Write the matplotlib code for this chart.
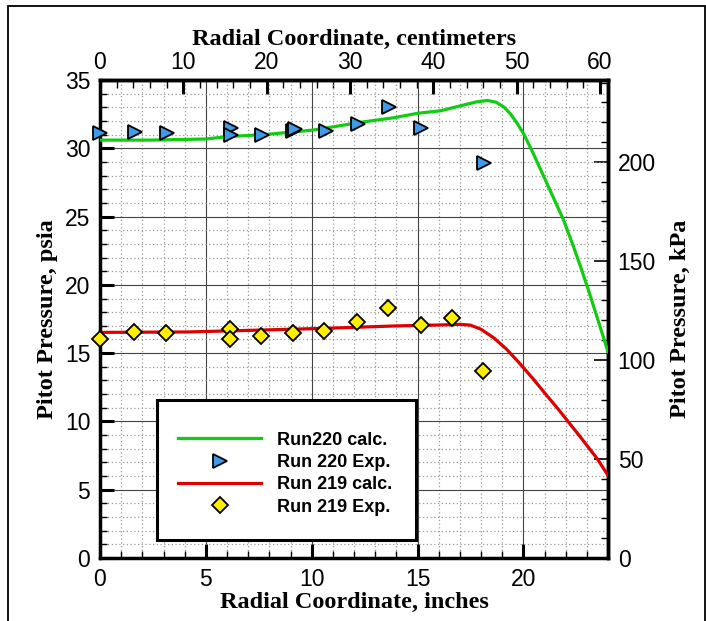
import matplotlib
matplotlib.use("Agg")
import matplotlib.pyplot as plt
from matplotlib.patches import Rectangle
from matplotlib.ticker import MultipleLocator
import numpy as np

# --- data (inches, psia) ---
run220_calc_x = [0.0, 2.4, 5.0, 6.0, 7.9, 10.1, 12.3, 13.9, 15.0, 16.1, 17.0,
                 17.8, 18.3, 18.7, 19.1, 19.4, 19.7, 20.0, 20.4, 20.8, 21.3,
                 21.9, 22.3, 22.7, 23.1, 23.5, 24.0]
run220_calc_y = [30.6, 30.6, 30.68, 30.85, 31.02, 31.34, 31.9, 32.24, 32.56, 32.75, 33.1,
                 33.4, 33.5, 33.38, 33.0, 32.5, 31.85, 31.1, 29.85, 28.5, 26.8,
                 24.75, 23.1, 21.35, 19.5, 17.55, 15.1]

run219_calc_x = [0.0, 4.1, 7.6, 10.7, 13.9, 16.0, 17.0, 17.5, 18.0, 18.6, 19.2,
                 19.8, 20.5, 21.0, 21.7, 22.7, 23.5, 24.0]
run219_calc_y = [16.52, 16.55, 16.69, 16.82, 16.99, 17.06, 17.11, 17.05, 16.75, 16.12, 15.3,
                 14.3, 13.05, 12.1, 10.8, 8.85, 7.25, 6.05]

run220_exp_x = [0.0, 1.65, 3.15, 6.17, 6.17, 7.64, 9.1, 9.2, 10.66, 12.17, 13.67, 15.17, 18.16]
run220_exp_y = [31.1, 31.17, 31.1, 31.5, 30.97, 30.97, 31.3, 31.4, 31.29, 31.75, 33.0, 31.51, 28.9]

run219_exp_x = [0.0, 1.61, 3.12, 6.14, 6.14, 7.59, 9.13, 10.6, 12.12, 13.62, 15.15, 16.61, 18.11]
run219_exp_y = [16.04, 16.57, 16.5, 16.77, 16.04, 16.28, 16.45, 16.62, 17.26, 18.33, 17.06, 17.6, 13.72]

IN2CM = 2.54
PSI2KPA = 6.894757

tick_font = dict(family="Liberation Sans", size=16.5)
label_font = dict(family="Liberation Serif", weight="bold", size=17.5)

fig = plt.figure(figsize=(7.06, 6.21), dpi=100)
ax = fig.add_axes([100 / 706, 63 / 621, 508 / 706, 478 / 621])

ax.plot(run220_calc_x, run220_calc_y, color="#11cc11", lw=2.3, label="Run220 calc.", zorder=3)
ax.plot(run220_exp_x, run220_exp_y, ls="none", marker=">", ms=10, mfc="#3d9be9",
        mec="black", mew=1.3, label="Run 220 Exp.", zorder=4, clip_on=False)
ax.plot(run219_calc_x, run219_calc_y, color="#dd0000", lw=2.3, label="Run 219 calc.", zorder=3)
ax.plot(run219_exp_x, run219_exp_y, ls="none", marker="D", ms=8, mfc="#ffee00",
        mec="black", mew=1.3, label="Run 219 Exp.", zorder=4, clip_on=False)

ax.set_xlim(0, 24)
ax.set_ylim(0, 35)
ax.xaxis.set_major_locator(MultipleLocator(5))
ax.xaxis.set_minor_locator(MultipleLocator(1))
ax.yaxis.set_major_locator(MultipleLocator(5))
ax.yaxis.set_minor_locator(MultipleLocator(1))
ax.grid(True, which="major", color="#444444", lw=0.8, zorder=1)
ax.grid(True, which="minor", color="#999999", lw=0.9, ls=(0, (1, 2)), zorder=1)
ax.set_axisbelow(True)

ax.tick_params(which="both", direction="in", top=False, right=False, colors="black")
ax.tick_params(which="major", length=10, width=2.2, pad=7)
ax.tick_params(which="minor", length=5, width=1)
for lab in ax.get_xticklabels() + ax.get_yticklabels():
    lab.set_fontproperties(tick_font)
for sp in ax.spines.values():
    sp.set_linewidth(2.5)

ax.set_xlabel("Radial Coordinate, inches", fontdict=label_font, labelpad=1)
ax.set_ylabel("Pitot Pressure, psia", fontdict=label_font, labelpad=5)

# top axis in centimeters
top = ax.secondary_xaxis("top", functions=(lambda x: x * IN2CM, lambda x: x / IN2CM))
top.xaxis.set_major_locator(MultipleLocator(10))
top.xaxis.set_minor_locator(MultipleLocator(2))
top.tick_params(which="both", direction="in")
top.tick_params(which="major", length=10, width=2.2, pad=4)
top.tick_params(which="minor", length=6, width=1)
for lab in top.get_xticklabels():
    lab.set_fontproperties(tick_font)
top.set_xlabel("Radial Coordinate, centimeters", fontdict=label_font, labelpad=5)
top.spines["top"].set_linewidth(2.5)

# right axis in kPa
right = ax.secondary_yaxis("right", functions=(lambda y: y * PSI2KPA, lambda y: y / PSI2KPA))
right.yaxis.set_major_locator(MultipleLocator(50))
right.yaxis.set_minor_locator(MultipleLocator(10))
right.tick_params(which="both", direction="in")
right.tick_params(which="major", length=10, width=1.2, pad=7)
right.tick_params(which="minor", length=5, width=1)
for lab in right.get_yticklabels():
    lab.set_fontproperties(tick_font)
right.set_ylabel("Pitot Pressure, kPa", fontdict=label_font, labelpad=10)
right.spines["right"].set_linewidth(2.5)

# legend box + entries
ax.add_patch(Rectangle((57 / 508, 18 / 478), 259 / 508, 140 / 478, transform=ax.transAxes,
                       facecolor="white", edgecolor="black", lw=2.2, zorder=5))
leg = ax.legend(loc="upper left", bbox_to_anchor=(69 / 508, 135.5 / 478), frameon=False,
                borderpad=0, handlelength=4.6, handletextpad=0.9, labelspacing=0.3,
                prop=dict(family="Liberation Sans", weight="bold", size=13))
leg.set_zorder(6)

# outer frame
fig.add_artist(Rectangle((8 / 706, -0.05), 697 / 706, 1.05 - 6 / 621, transform=fig.transFigure,
                         fill=False, edgecolor="black", lw=1.3))

fig.savefig("out.png", dpi=100)
